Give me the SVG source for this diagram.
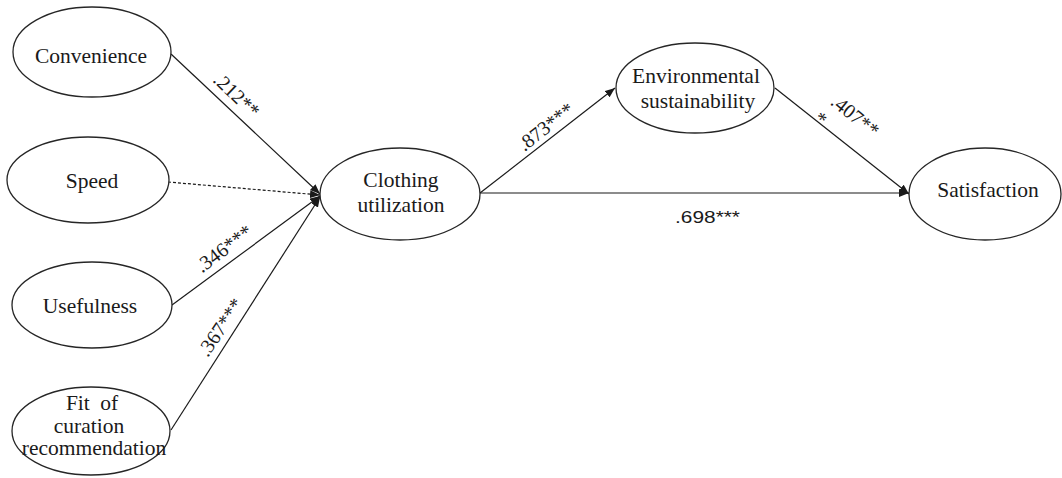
<svg xmlns="http://www.w3.org/2000/svg" width="1062" height="478" viewBox="0 0 1062 478">
<style>
  .node ellipse { fill: #ffffff; stroke: #262626; stroke-width: 1.3; }
  .node text { font-family: "Liberation Serif", "Times New Roman", serif; font-size: 21.5px; fill: #1a1a1a; text-anchor: middle; }
  .edge { stroke: #1a1a1a; stroke-width: 1.2; fill: none; marker-end: url(#arrow); }
  .dashed { stroke-dasharray: 3 2; }
  .lbl { font-family: "Liberation Serif", "Times New Roman", serif; font-size: 20px; fill: #1a1a1a; text-anchor: middle; }
  .lbl-sans { font-family: "Liberation Sans", Arial, sans-serif; font-size: 17px; fill: #1a1a1a; }
</style>
<defs>
  <marker id="arrow" markerUnits="userSpaceOnUse" markerWidth="10" markerHeight="8" refX="10" refY="4" orient="auto">
    <path d="M0,0 L10,4 L0,8 z" fill="#1a1a1a"/>
  </marker>
</defs>
<rect width="1062" height="478" fill="#ffffff"/>
<g id="connectors">
  <line class="edge" x1="171" y1="54" x2="320" y2="194"/>
  <line class="edge dashed" x1="168" y1="182" x2="320" y2="195"/>
  <line class="edge" x1="172" y1="305" x2="320" y2="196"/>
  <line class="edge" x1="171" y1="430" x2="320" y2="197"/>
  <line class="edge" x1="480" y1="193" x2="615" y2="88"/>
  <line class="edge" x1="480" y1="193" x2="909" y2="193"/>
  <line class="edge" x1="775" y1="88" x2="909" y2="194"/>
  <text class="lbl" transform="translate(232,100) rotate(43.6)">.212**</text>
  <text class="lbl" transform="translate(228,254) rotate(-37)">.346***</text>
  <text class="lbl" transform="translate(226,331) rotate(-56)">.367***</text>
  <text class="lbl" transform="translate(550,132) rotate(-38)">.873***</text>
  <text class="lbl" transform="translate(851,121) rotate(38.6)"><tspan x="0" y="0">.407**</tspan><tspan x="-25" y="24">*</tspan></text>
  <text class="lbl-sans" x="675" y="223" textLength="65" lengthAdjust="spacingAndGlyphs">.698***</text>
</g>
<g id="convenience" class="node">
  <ellipse cx="92" cy="52" rx="79" ry="45"/>
  <text x="91" y="63">Convenience</text>
</g>
<g id="speed" class="node">
  <ellipse cx="88" cy="180" rx="81" ry="43"/>
  <text x="92" y="188">Speed</text>
</g>
<g id="usefulness" class="node">
  <ellipse cx="92" cy="305" rx="80" ry="43"/>
  <text x="90" y="313">Usefulness</text>
</g>
<g id="fit" class="node">
  <ellipse cx="91" cy="431" rx="79" ry="44"/>
  <text x="92" y="410" word-spacing="5">Fit of</text>
  <text x="89" y="433">curation</text>
  <text x="94" y="455">recommendation</text>
</g>
<g id="clothing" class="node">
  <ellipse cx="400" cy="194" rx="80" ry="46"/>
  <text x="401" y="187">Clothing</text>
  <text x="401" y="212">utilization</text>
</g>
<g id="environmental" class="node">
  <ellipse cx="695" cy="88" rx="79" ry="45"/>
  <text x="696" y="83">Environmental</text>
  <text x="698" y="108">sustainability</text>
</g>
<g id="satisfaction" class="node">
  <ellipse cx="985" cy="194" rx="76" ry="46"/>
  <text x="988" y="197">Satisfaction</text>
</g>
</svg>
